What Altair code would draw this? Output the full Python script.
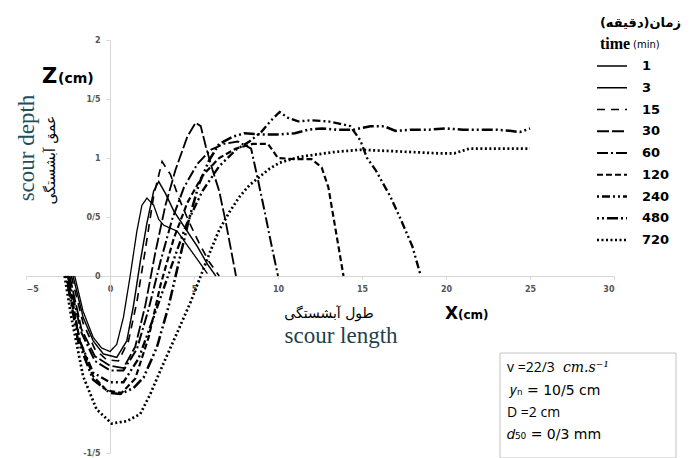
import altair as alt
import pandas as pd

# ---------------- data ----------------
times = ["1", "3", "15", "30", "60", "120", "240", "480", "720"]

x_1 = [-2.1, -1.6, -1.0, -0.5, 0.0, 0.4, 0.8, 1.2, 1.6, 1.9, 2.2, 2.6, 2.9, 3.2, 4.0, 4.6, 5.2, 5.8]
z_1 = [0.0, -0.3, -0.52, -0.61, -0.64, -0.58, -0.35, 0.0, 0.38, 0.6, 0.66, 0.6, 0.48, 0.43, 0.38, 0.26, 0.14, 0.02]

x_3 = [-2.2, -1.6, -1.0, -0.4, 0.4, 1.0, 1.4, 1.8, 2.2, 2.6, 2.9, 3.3, 3.8, 4.5, 5.2, 5.8, 6.3]
z_3 = [0.0, -0.35, -0.55, -0.66, -0.69, -0.55, -0.25, 0.12, 0.45, 0.72, 0.8, 0.7, 0.55, 0.4, 0.25, 0.1, 0.0]

x_15 = [-2.3, -1.6, -0.9, -0.2, 0.5, 1.1, 1.6, 2.1, 2.6, 3.1, 3.6, 4.1, 4.7, 5.3, 5.9, 6.5]
z_15 = [0.0, -0.4, -0.62, -0.71, -0.72, -0.55, -0.22, 0.22, 0.68, 0.97, 0.86, 0.66, 0.46, 0.28, 0.12, 0.0]

x_30 = [-2.4, -1.7, -0.9, 0.0, 0.8, 1.5, 2.1, 2.7, 3.3, 3.9, 4.6, 5.1, 5.4, 5.7, 6.1, 6.5, 6.9, 7.5]
z_30 = [0.0, -0.45, -0.68, -0.76, -0.78, -0.6, -0.25, 0.2, 0.6, 0.9, 1.18, 1.3, 1.27, 1.1, 0.9, 0.72, 0.45, 0.0]

x_60 = [-2.5, -1.7, -0.9, 0.0, 0.8, 1.6, 2.3, 3.0, 3.7, 4.4, 5.2, 6.0, 6.8, 7.6, 8.4, 8.8, 9.2, 9.6, 10.0]
z_60 = [0.0, -0.48, -0.72, -0.8, -0.8, -0.62, -0.28, 0.12, 0.48, 0.75, 0.95, 1.07, 1.12, 1.14, 1.08, 0.82, 0.55, 0.27, 0.0]

x_120 = [-2.5, -1.8, -1.0, -0.2, 0.7, 1.5, 2.3, 3.0, 3.8, 4.6, 5.5, 6.5, 7.5, 8.5, 9.4, 10.0, 11.0, 12.0, 12.6, 13.0, 13.3, 13.6, 13.9]
z_120 = [0.0, -0.55, -0.85, -0.97, -0.99, -0.87, -0.52, -0.08, 0.32, 0.62, 0.85, 1.0, 1.08, 1.12, 1.12, 1.0, 0.99, 0.99, 0.92, 0.75, 0.5, 0.25, 0.0]

x_240 = [-2.6, -1.8, -1.0, 0.0, 0.8, 1.7, 2.6, 3.5, 4.5, 5.5, 6.5, 7.5, 8.3, 9.0, 9.6, 10.1, 10.6, 11.2, 12.0, 13.0, 13.7, 14.3, 14.9, 15.3, 15.8, 16.7, 17.4, 18.0, 18.5]
z_240 = [0.0, -0.55, -0.82, -0.9, -0.9, -0.7, -0.35, 0.02, 0.42, 0.72, 0.93, 1.07, 1.14, 1.22, 1.32, 1.39, 1.34, 1.31, 1.32, 1.31, 1.29, 1.27, 1.15, 1.0, 0.9, 0.67, 0.45, 0.25, 0.0]

x_480 = [-2.6, -1.9, -1.0, 0.0, 0.6, 1.4, 2.0, 2.8, 3.5, 4.1, 4.7, 5.3, 5.9, 6.5, 7.3, 8.0, 9.0, 10.0, 11.0, 11.8, 12.6, 13.5, 14.5, 15.5, 16.3, 17.0, 18.0, 19.0, 20.0, 21.0, 22.0, 23.0, 23.8, 24.4, 25.0]
z_480 = [0.0, -0.55, -0.88, -0.99, -1.0, -0.95, -0.86, -0.6, -0.25, 0.12, 0.48, 0.78, 0.98, 1.12, 1.18, 1.21, 1.2, 1.2, 1.21, 1.24, 1.25, 1.24, 1.24, 1.27, 1.27, 1.23, 1.24, 1.24, 1.25, 1.24, 1.24, 1.24, 1.23, 1.22, 1.25]

x_720 = [-2.7, -2.3, -1.6, -0.8, 0.1, 1.0, 1.8, 2.4, 3.0, 4.0, 4.8, 5.4, 6.0, 6.5, 7.1, 7.7, 8.3, 8.9, 9.5, 10.1, 11.3, 12.3, 13.3, 14.9, 16.5, 18.0, 19.5, 20.5, 21.4, 22.5, 23.5, 24.3, 25.0]
z_720 = [0.0, -0.35, -0.85, -1.13, -1.25, -1.23, -1.17, -1.0, -0.8, -0.48, -0.22, 0.0, 0.22, 0.39, 0.54, 0.67, 0.77, 0.84, 0.91, 0.96, 1.01, 1.03, 1.05, 1.07, 1.06, 1.05, 1.04, 1.04, 1.08, 1.08, 1.08, 1.08, 1.08]

x_ticks = [-5, 0, 5, 10, 15, 20, 25, 30]
z_ticks = [-1.5, 0, 0.5, 1, 1.5, 2]

# styles
dashes = [[1, 0], [1, 0], [8, 6], [12, 3], [11, 3, 2, 3], [6, 3], [2, 3, 8, 3, 2, 3], [2, 3, 2, 3, 11, 3], [2, 2.5]]
widths = [1.3, 2.7, 2.7, 2.7, 2.7, 2.7, 2.5, 2.5, 2.3]

series = {
    "1": (x_1, z_1), "3": (x_3, z_3), "15": (x_15, z_15), "30": (x_30, z_30),
    "60": (x_60, z_60), "120": (x_120, z_120), "240": (x_240, z_240),
    "480": (x_480, z_480), "720": (x_720, z_720),
}
rows = []
for t, (xs, zs) in series.items():
    for i, (xv, zv) in enumerate(zip(xs, zs)):
        rows.append({"time": t, "x": xv, "z": zv, "i": i})
df = pd.DataFrame(rows)
leg_df = pd.DataFrame({"time": times, "row": list(range(len(times)))})

dash_scale = alt.Scale(domain=times, range=dashes)
width_scale = alt.Scale(domain=times, range=widths)

y_label_expr = ("datum.value == 1.5 ? '1/5' : datum.value == 0.5 ? '0/5' : "
                "datum.value == -1.5 ? '-1/5' : format(datum.value, 'd')")

lines = alt.Chart(df).mark_line(color="black", strokeCap="butt").encode(
    x=alt.X("x:Q", scale=alt.Scale(domain=[-5, 30], nice=False, zero=False),
            axis=alt.Axis(values=x_ticks, offset=-177, title=None, grid=False,
                          format="d",
                          domainColor="#d6d6d6", tickColor="#d6d6d6", tickSize=3,
                          labelFontSize=8, labelColor="#555555", labelPadding=6,
                          labelFont="DejaVu Sans", labelFontWeight="bold")),
    y=alt.Y("z:Q", scale=alt.Scale(domain=[-1.5, 2], nice=False, zero=False),
            axis=alt.Axis(values=z_ticks, offset=-84, title=None, grid=False,
                          labelExpr=y_label_expr,
                          domainColor="#d6d6d6", tickColor="#d6d6d6", tickSize=4,
                          labelFontSize=8, labelColor="#555555", labelPadding=6,
                          labelFont="DejaVu Sans", labelFontWeight="bold")),
    strokeDash=alt.StrokeDash("time:N", scale=dash_scale, legend=None),
    strokeWidth=alt.StrokeWidth("time:N", scale=width_scale, legend=None),
    detail="time:N",
    order="i:Q",
)

row_y = alt.Y("row:Q", scale=alt.Scale(domain=[0, 8], range=[26, 200]), axis=None)
leg_lines = alt.Chart(leg_df).mark_rule(color="black", strokeCap="butt").encode(
    x=alt.value(571), x2=alt.value(601), y=row_y,
    strokeDash=alt.StrokeDash("time:N", scale=dash_scale, legend=None),
    strokeWidth=alt.StrokeWidth("time:N", scale=width_scale, legend=None),
)
leg_text = alt.Chart(leg_df).mark_text(
    align="left", baseline="middle", font="DejaVu Sans", fontWeight="bold",
    fontSize=13, color="black").encode(
    x=alt.value(616), y=row_y, text="time:N")


def label(txt, x, y, **kw):
    return alt.Chart(pd.DataFrame({"t": [txt]})).mark_text(**kw).encode(
        x=alt.value(x), y=alt.value(y), text="t:N")


texts = [
    label("زمان(دقیقه)", 655, -17, align="right", baseline="middle",
          font="DejaVu Sans", fontWeight="bold", fontSize=13, color="black"),
    label("time", 574, 4, align="left", baseline="middle",
          font="Liberation Serif", fontWeight="bold", fontSize=16, color="black"),
    label("(min)", 607, 5, align="left", baseline="middle",
          font="DejaVu Sans", fontSize=10, color="black"),
    label("Z", 16, 43, align="left", baseline="alphabetic",
          font="DejaVu Sans", fontWeight="bold", fontSize=21, color="black"),
    label("(cm)", 32, 43, align="left", baseline="alphabetic",
          font="DejaVu Sans", fontWeight="bold", fontSize=14, color="black"),
    label("scour depth", 1, 108, align="center", baseline="middle", angle=270,
          font="Liberation Serif", fontSize=23, color="#1f4f5e"),
    label("عمق آبشستگی", 25, 120, align="center", baseline="middle", angle=270,
          font="DejaVu Sans", fontSize=14, color="black"),
    label("طول آبشستگی", 303, 274, align="center", baseline="middle",
          font="DejaVu Sans", fontSize=14, color="black"),
    label("scour length", 315, 296, align="center", baseline="middle",
          font="Liberation Serif", fontSize=23, color="#1f3f4a"),
    label("X", 419, 279, align="left", baseline="alphabetic",
          font="DejaVu Sans", fontWeight="bold", fontSize=17, color="black"),
    label("(cm)", 432, 279, align="left", baseline="alphabetic",
          font="DejaVu Sans", fontWeight="bold", fontSize=12, color="black"),
    label("v =22/3 ", 481, 332, align="left", baseline="alphabetic",
          font="Open Sans", fontSize=14, color="black"),
    label("cm.s⁻¹", 537, 332, align="left", baseline="alphabetic",
          font="DejaVu Serif", fontStyle="italic", fontSize=14, color="black"),
    label("𝑦ₙ = 10/5 cm", 484, 355, align="left", baseline="alphabetic",
          font="DejaVu Sans", fontSize=14, color="black"),
    label("D =2 cm", 481, 377, align="left", baseline="alphabetic",
          font="Open Sans", fontSize=14, color="black"),
    label("𝑑₅₀ = 0/3 mm", 481, 399, align="left", baseline="alphabetic",
          font="DejaVu Sans", fontSize=14, color="black"),
]

box = alt.Chart(pd.DataFrame({"a": [0]})).mark_rect(
    fill="white", fillOpacity=0, stroke="#c4c4c4", strokeWidth=1).encode(
    x=alt.value(474), x2=alt.value(650), y=alt.value(313), y2=alt.value(418))

chart = alt.layer(lines, leg_lines, leg_text, box, *texts).resolve_scale(
    y="independent"
).properties(
    width=588, height=413, autosize="none",
    padding={"left": 18, "top": 32, "right": 69, "bottom": 5},
).configure_view(stroke=None)

chart.save("out.html", embed_options={"renderer": "svg", "actions": False})
